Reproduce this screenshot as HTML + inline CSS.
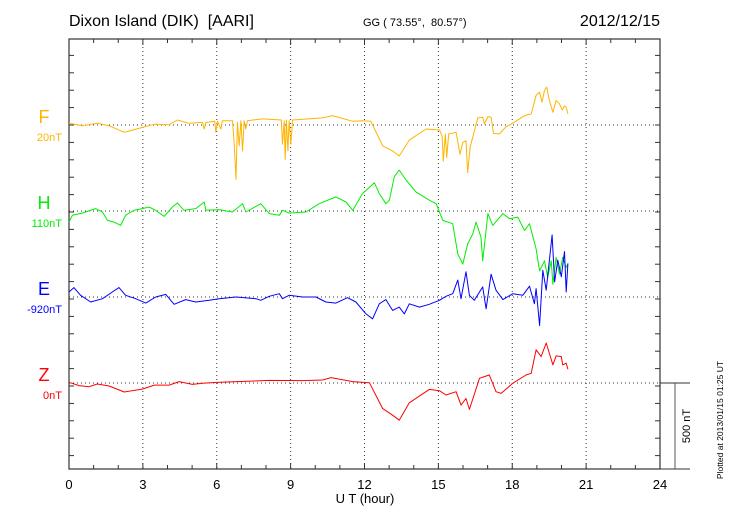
<!DOCTYPE html>
<html><head><meta charset="utf-8"><style>
body{margin:0;background:#fff;}
svg{display:block;font-family:"Liberation Sans",sans-serif;}
text{white-space:pre;}
</style></head><body>
<svg id="chart" width="730" height="520" viewBox="0 0 730 520">
<text x="69" y="26" font-size="16">Dixon Island (DIK)  [AARI]</text>
<text x="363" y="26" font-size="11">GG ( 73.55°,  80.57°)</text>
<text x="660" y="26" font-size="16" text-anchor="end">2012/12/15</text>
<g id="grid"></g>
<g id="axes"></g>
<g id="series"></g>
<g id="labels"></g>
<text x="365" y="503" font-size="13" text-anchor="middle">U T (hour)</text>
<text transform="translate(690,426) rotate(-90)" font-size="11" text-anchor="middle">500 nT</text>
<text transform="translate(723,420) rotate(-90)" font-size="8.5" text-anchor="middle">Plotted at 2013/01/15 01:25 UT</text>
</svg>
<script>
const xTicks = [0,3,6,9,12,15,18,21,24];
const seriesNames = ["F","H","E","Z"];
const seriesOffsets = ["20nT","110nT","-920nT","0nT"];
const fT = [0,0.54,1.15,1.63,2.24,2.98,3.46,4.07,4.40,4.88,5.42,5.49,5.56,5.92,5.96,6.03,6.17,6.23,6.64,6.71,6.78,6.84,6.91,6.98,7.05,7.11,7.18,7.25,7.86,8.62,8.67,8.74,8.78,8.83,8.89,8.94,9.01,9.08,10.30,10.70,11.52,11.92,12.26,12.74,13.14,13.41,13.82,14.50,15.04,15.15,15.20,15.28,15.34,15.42,15.72,15.88,15.99,16.12,16.19,16.29,16.60,16.80,16.87,17.01,17.14,17.24,17.48,17.75,18.02,18.50,18.77,18.97,19.11,19.21,19.31,19.40,19.51,19.65,19.78,19.92,20.03,20.12,20.19,20.26];
const fV = [10,-4,10,-4,-42,-14,4,2,29,10,15,-23,15,21,-42,21,-23,25,25,-110,-313,15,-120,25,-149,25,-23,25,35,29,-110,25,-197,29,-149,25,-110,29,41,54,21,25,21,-120,-149,-178,-87,-23,-29,-62,-207,-52,-187,-52,-42,-168,-100,-91,-274,-129,41,44,6,48,44,-48,-52,-10,10,54,64,170,189,131,199,218,141,73,141,122,87,110,102,64];
const hT = [0,0.14,0.54,1.08,1.36,1.56,1.83,2.10,2.30,2.64,2.98,3.25,3.52,3.86,4.20,4.40,4.67,5.15,5.49,5.56,6.10,6.64,7.05,7.18,7.79,8.13,8.54,8.67,8.94,9.62,10.16,10.84,11.25,11.52,11.92,12.40,12.60,12.87,13.01,13.21,13.41,13.69,14.09,14.63,14.91,15.18,15.58,15.79,15.99,16.19,16.40,16.53,16.73,16.80,17.01,17.21,17.62,17.89,18.22,18.50,18.70,18.97,19.11,19.31,19.44,19.58,19.65,19.78,19.92,20.05,20.19,20.26];
const hV = [-64,-25,-12,14,-6,-54,-64,-83,-25,4,14,23,4,-31,23,46,4,14,52,4,8,-6,42,-6,42,-15,-25,4,-12,-6,42,81,52,4,100,162,100,42,62,197,235,178,110,62,42,-54,-73,-247,-305,-189,-131,-64,-151,-286,-15,-83,-15,-44,-35,-112,-73,-218,-344,-286,-382,-286,-421,-266,-363,-266,-324,-305];
const eT = [0,0.20,0.47,0.88,1.36,1.76,2.03,2.30,2.71,3.12,3.52,3.93,4.27,4.74,5.15,5.69,6.10,6.78,7.59,7.79,8.13,8.54,8.67,8.94,9.49,10.03,10.43,10.84,11.31,11.65,12.06,12.33,12.60,12.87,13.14,13.41,13.62,13.82,14.23,14.63,15.04,15.31,15.58,15.79,15.92,16.12,16.26,16.46,16.80,16.94,17.14,17.34,17.62,18.02,18.43,18.70,18.90,18.97,19.11,19.24,19.38,19.62,19.72,19.85,19.99,20.12,20.19,20.26];
const eV = [29,54,10,-29,-10,29,54,10,-10,-35,0,15,-42,-15,-29,-19,-10,0,-10,-19,4,19,-10,10,0,0,-29,-35,-4,-29,-97,-125,-39,-15,-77,-58,-97,-39,-58,-42,-19,4,19,97,-10,145,10,-19,58,-68,131,39,-15,19,10,62,-39,48,-164,154,39,357,87,212,116,261,29,193];
const zT = [0,0.41,0.81,1.15,1.63,2.24,2.98,3.46,4.07,4.47,5.01,5.42,6.10,8.13,9.49,10.30,10.64,11.52,12.20,12.74,13.14,13.41,13.82,14.63,15.04,15.31,15.72,15.92,16.12,16.26,16.67,16.87,17.07,17.34,17.55,18.02,18.56,18.77,18.97,19.17,19.38,19.65,19.78,19.99,20.05,20.19,20.26];
const zV = [4,-15,-21,-6,-17,-52,-35,-12,-12,8,-8,-2,4,15,14,17,31,8,2,-147,-185,-214,-114,-37,-44,-69,-50,-127,-89,-152,27,37,46,-50,-60,-2,46,56,191,152,230,104,156,152,104,114,79];

const X0=69,X1=660,Y0=39,Y1=469;
const baselines=[125,211,297,383];
const colors=["#ffb400","#00ee00","#0000ff","#ff0000"];
const PXNT=87/500;
function xs(h){return X0+(X1-X0)*h/24;}
function ys(i,v){return baselines[i]-v*PXNT;}
const NS="http://www.w3.org/2000/svg";
function mk(tag,attrs,parent){const e=document.createElementNS(NS,tag);for(const k in attrs)e.setAttribute(k,attrs[k]);parent.appendChild(e);return e;}
const grid=document.getElementById('grid'),axes=document.getElementById('axes'),ser=document.getElementById('series'),lab=document.getElementById('labels');
xTicks.forEach(h=>{
  if(h>0&&h<24){const l=mk('line',{x1:xs(h),x2:xs(h),y1:Y0,y2:Y1,stroke:'#333','stroke-width':1,'stroke-dasharray':'1,3'},grid);
  
  }
  const t=mk('text',{x:xs(h),y:489,'font-size':13,'text-anchor':'middle'},axes);t.textContent=h;
  
  
});
baselines.forEach(b=>{
  const l=mk('line',{x1:X0,x2:X1,y1:b,y2:b,stroke:'#333','stroke-width':1,'stroke-dasharray':'1,3'},grid);
  
  
});
const fr=mk('rect',{x:X0,y:Y0,width:X1-X0,height:Y1-Y0,fill:'none',stroke:'#333','stroke-width':1.2},axes);


for(let h=0;h<=24;h++){const L=(h%3===0)?6:4;
  mk('line',{x1:xs(h),x2:xs(h),y1:Y0,y2:Y0+L,stroke:'#333'},axes);
  mk('line',{x1:xs(h),x2:xs(h),y1:Y1,y2:Y1-L,stroke:'#333'},axes);}
for(let y=125-17.4*5;y<=Y1;y+=17.4){ if(y<Y0)continue;
  mk('line',{x1:X0,x2:X0+5,y1:y,y2:y,stroke:'#333'},axes);
  mk('line',{x1:X1,x2:X1-5,y1:y,y2:y,stroke:'#333'},axes);}
mk('line',{x1:X1,x2:690,y1:383,y2:383,stroke:'#333'},axes);
mk('line',{x1:X1,x2:690,y1:Y1,y2:Y1,stroke:'#333'},axes);
const sb=mk('line',{x1:675,x2:675,y1:383,y2:Y1,stroke:'#555'},axes);


const allT=[fT,hT,eT,zT],allV=[fV,hV,eV,zV];
allT.forEach((T,i)=>{
  const d=T.map((t,j)=>(j?'L':'M')+xs(t).toFixed(1)+','+ys(i,allV[i][j]).toFixed(1)).join('');
  const p=mk('path',{d:d,fill:'none',stroke:colors[i],'stroke-width':1,'stroke-linejoin':'round'},ser);
  
  
  const a=mk('text',{x:44,y:baselines[i]-2,'font-size':18,'text-anchor':'middle',fill:colors[i]},lab);a.textContent=seriesNames[i];
  
  
  const b=mk('text',{x:62,y:baselines[i]+16,'font-size':11,'text-anchor':'end',fill:colors[i]},lab);b.textContent=seriesOffsets[i];
  
  
});
</script>
</body></html>
